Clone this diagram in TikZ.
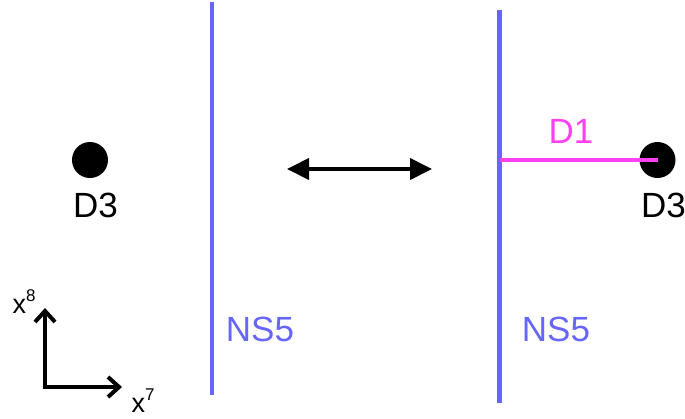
\documentclass[tikz,border=0pt]{standalone}
\usepackage{fontspec}
\setmainfont{Liberation Sans}
\usetikzlibrary{arrows.meta}
\definecolor{nsblue}{RGB}{102,102,255}
\definecolor{dmag}{RGB}{255,64,240}
\begin{document}
\begin{tikzpicture}[x=1pt,y=-1pt,
  lbl/.style={inner sep=0pt,anchor=base,font=\fontsize{35}{40}\selectfont},
  axlbl/.style={inner sep=0pt,anchor=base west,font=\fontsize{27}{30}\selectfont},
  brane/.style={draw=nsblue,line width=4.5pt},
  dstring/.style={draw=dmag,line width=4pt},
  dot/.style={circle,fill=black,minimum size=36pt,inner sep=0pt},
  axis/.style={line width=4pt,-{Straight Barb[length=11pt,width=20pt,line width=4pt]}},
  move/.style={line width=4pt,{Triangle[length=22pt,width=21pt]}-{Triangle[length=22pt,width=21pt]}}]
\useasboundingbox (0,0) rectangle (685,418);
% NS5 branes
\coordinate (L1) at (212,2);
\coordinate (L2) at (212,395);
\coordinate (R1) at (499.5,10);
\coordinate (R2) at (499.5,403);
\draw[brane] (L1) -- (L2);
\draw[brane] (R1) -- (R2);
\node[lbl,text=nsblue] (ns5l) at (260,341) {NS5};
\node[lbl,text=nsblue] (ns5r) at (556,341) {NS5};
% D3 left
\node[dot] (d3l) at (90,160) {};
\node[lbl] (d3lt) at (95.5,217) {D3};
% D3 right with D1
\node[dot] (d3r) at (657.5,160) {};
\node[lbl] (d3rt) at (663.5,217) {D3};
\coordinate (d1s) at (499.5,160);
\draw[dstring] (d1s) -- (d3r.center);
\node[lbl,text=dmag] (d1t) at (571,143) {D1};
% double arrow
\coordinate (a1) at (287,169);
\coordinate (a2) at (432,169);
\draw[move] (a1) -- (a2);
% axes
\coordinate (o) at (45,387);
\coordinate (y8) at (45,308);
\coordinate (x7) at (122,387);
\draw[axis] ([xshift=-2pt]o) -- (x7);
\draw[axis] ([yshift=2pt]o) -- (y8);
\node[axlbl] (lx8) at (12.5,313) {x\raisebox{12pt}{\fontsize{17}{17}\selectfont 8}};
\node[axlbl] (lx7) at (131.5,412) {x\raisebox{12pt}{\fontsize{17}{17}\selectfont 7}};
\end{tikzpicture}
\end{document}
